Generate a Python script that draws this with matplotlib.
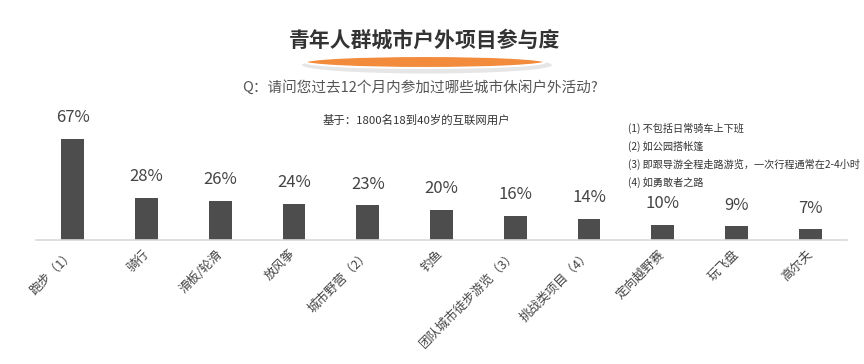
import matplotlib
matplotlib.use('Agg')
import matplotlib.pyplot as plt
from matplotlib.patches import Ellipse

plt.rcParams['font.family'] = ['Noto Sans CJK SC', 'DejaVu Sans']

# datos
categorias = ['跑步（1）', '骑行', '滑板/轮滑', '放风筝', '城市野营（2）', '钓鱼',
              '团队城市徒步游览（3）', '挑战类项目（4）', '定向越野赛', '玩飞盘', '高尔夫']
valores = [67, 28, 26, 24, 23, 20, 16, 14, 10, 9, 7]
notas = ['(1) 不包括日常骑车上下班', '(2) 如公园搭帐篷',
         '(3) 即跟导游全程走路游览，一次行程通常在2-4小时', '(4) 如勇敢者之路']

titulo = '青年人群城市户外项目参与度'
pregunta = 'Q：请问您过去12个月内参加过哪些城市休闲户外活动?'
base = '基于：1800名18到40岁的互联网用户'

fig = plt.figure(figsize=(8.64, 3.64), dpi=100)
W, H = 864, 364
ax = fig.add_axes([36 / W, 124 / H, 811 / W, 140 / H])

x = range(len(categorias))
barras = ax.bar(x, valores, width=0.31, color='#4d4d4d')
for xi, v in zip(x, valores):
    ax.annotate(f'{v}%', (xi, v), xytext=(0, 9), textcoords='offset points',
                ha='center', va='bottom', fontsize=12, color='#444444')

ax.set_xlim(-0.5, 10.5)
ax.set_ylim(0, 92.7)
ax.set_yticks([])
ax.set_xticks(list(x))
ax.set_xticklabels(categorias, rotation=45, ha='right', va='center',
                   rotation_mode='anchor', fontsize=9, color='#444444')
ax.tick_params(axis='x', length=0, pad=9)
for s in ['top', 'right', 'left']:
    ax.spines[s].set_visible(False)
ax.spines['bottom'].set_color('#d9d9d9')
ax.spines['bottom'].set_linewidth(1.2)

# titulo con subrayado naranja
sombra = Ellipse((427 / W, 1 - 65 / H), 250 / W, 17 / H, transform=fig.transFigure,
                 facecolor='#e6e6e6', edgecolor='none', zorder=1)
ovalo = Ellipse((425 / W, 1 - 62 / H), 240 / W, 12 / H, transform=fig.transFigure,
                facecolor='#f28b3c', edgecolor='white', linewidth=1.5, zorder=2)
fig.patches.extend([sombra, ovalo])
fig.text(425 / W, 1 - 40 / H, titulo, ha='center', va='center', fontsize=15,
         fontweight='bold', color='#333333')
fig.text(420 / W, 1 - 87 / H, pregunta, ha='center', va='center', fontsize=10.5,
         color='#555555')
fig.text(416 / W, 1 - 120 / H, base, ha='center', va='center', fontsize=8.2,
         color='#333333')

for i, n in enumerate(notas):
    fig.text(628 / W, 1 - (128 + 18 * i) / H, n, ha='left', va='center',
             fontsize=7.3, color='#333333')

fig.savefig('out.png', dpi=100, facecolor='white')
